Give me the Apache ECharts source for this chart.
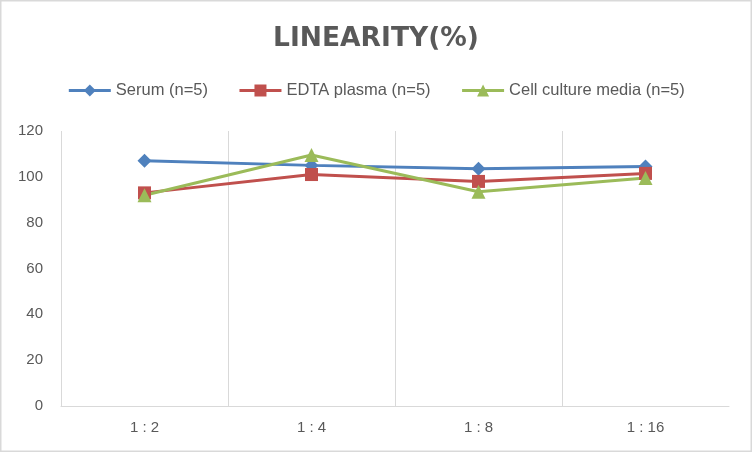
<!DOCTYPE html>
<html>
<head>
<meta charset="utf-8">
<script src="https://cdn.jsdelivr.net/npm/echarts@6/dist/echarts.min.js"></script>
<style>
html,body{margin:0;padding:0;background:#fff;}
#chart{width:752px;height:452px;}
</style>
</head>
<body>
<div id="chart"></div>
<script>
var categories = ['1 : 2', '1 : 4', '1 : 8', '1 : 16'];
var serum = [107, 105, 103.5, 104.5];
var edta = [93, 101, 98, 101.5];
var cellCulture = [92, 109.5, 93.5, 99.5];
var seriesNames = ['Serum (n=5)', 'EDTA plasma (n=5)', 'Cell culture media (n=5)'];
var yTicks = {min: 0, max: 120, interval: 20};

var chart = echarts.init(document.getElementById('chart'), null, {renderer: 'canvas'});
var txt = '#595959';
chart.setOption({
  backgroundColor: '#fff',
  animation: false,
  title: {
    text: 'LINEARITY(%)',
    left: 'center',
    top: 26,
    padding: 0,
    textStyle: {fontFamily: 'DejaVu Sans', fontWeight: 'bold', fontSize: 26.5, color: txt}
  },
  legend: {
    top: 82,
    left: 'center',
    padding: 0,
    itemWidth: 42,
    itemHeight: 15,
    itemGap: 30,
    lineStyle: {width: 3},
    textStyle: {fontFamily: 'Liberation Sans', fontSize: 16.5, color: txt},
    data: seriesNames
  },
  graphic: [{
    type: 'rect',
    silent: true,
    shape: {x: 0.75, y: 0.75, width: 750.5, height: 450.5},
    style: {fill: 'none', stroke: '#d9d9d9', lineWidth: 1.5}
  }],
  grid: {left: 61, right: 23, top: 131, bottom: 46, containLabel: false},
  xAxis: {
    type: 'category',
    data: categories,
    boundaryGap: true,
    axisLine: {show: true, lineStyle: {color: '#d9d9d9', width: 1}},
    axisTick: {show: false},
    axisLabel: {color: txt, fontFamily: 'Liberation Sans', fontSize: 15, margin: 14},
    splitLine: {show: true, showMinLine: true, showMaxLine: false, lineStyle: {color: '#d9d9d9', width: 1}}
  },
  yAxis: {
    type: 'value',
    min: yTicks.min,
    max: yTicks.max,
    interval: yTicks.interval,
    axisLine: {show: false},
    axisTick: {show: false},
    splitLine: {show: false},
    axisLabel: {color: txt, fontFamily: 'Liberation Sans', fontSize: 15, margin: 18}
  },
  series: [
    {name: seriesNames[0], type: 'line', data: serum, symbol: 'diamond', symbolSize: 14,
     lineStyle: {color: '#4f81bd', width: 3}, itemStyle: {color: '#4f81bd'}},
    {name: seriesNames[1], type: 'line', data: edta, symbol: 'rect', symbolSize: 13,
     lineStyle: {color: '#c0504d', width: 3}, itemStyle: {color: '#c0504d'}},
    {name: seriesNames[2], type: 'line', data: cellCulture, symbol: 'triangle', symbolSize: 14,
     lineStyle: {color: '#9bbb59', width: 3}, itemStyle: {color: '#9bbb59'}}
  ]
});
</script>
</body>
</html>
